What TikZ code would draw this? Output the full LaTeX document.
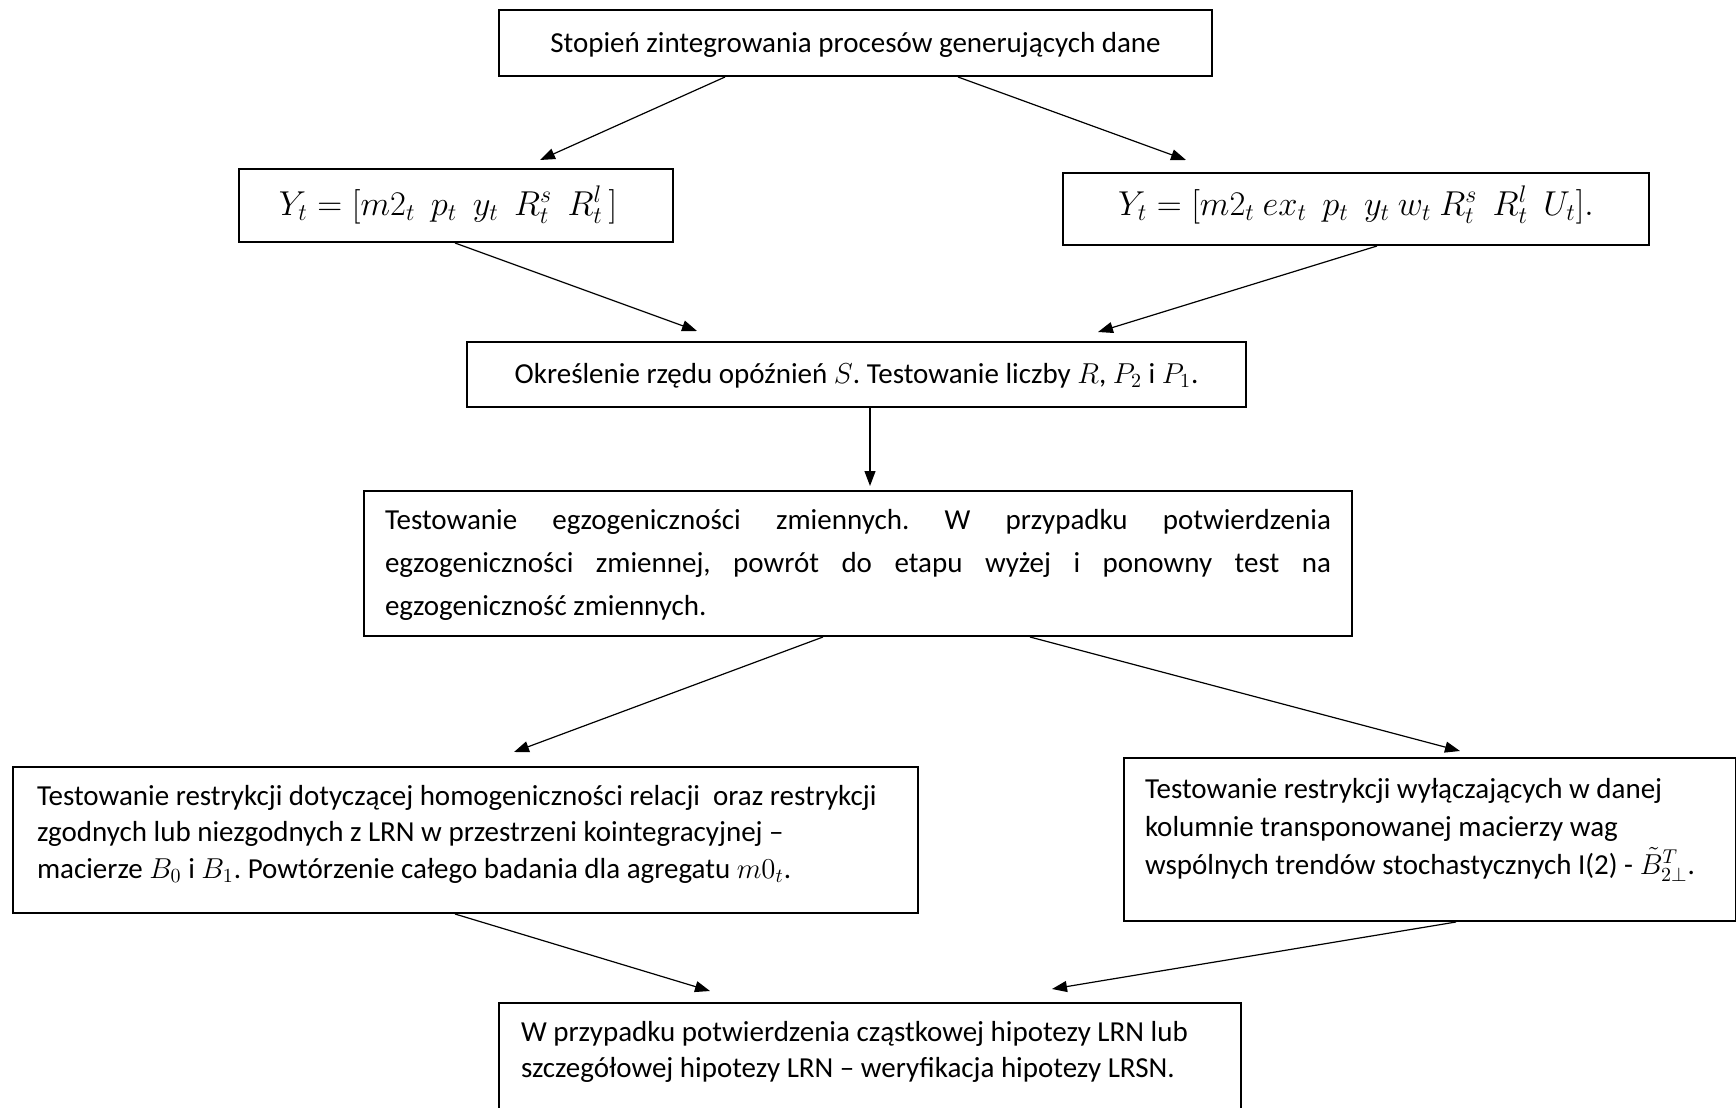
\documentclass[tikz,border=0pt]{standalone}
\usepackage{fontspec}
\setmainfont{Carlito}
\usetikzlibrary{arrows.meta,calc}
\frenchspacing

% #1 text width, #2 box height, #3 first baseline below top, #4 line spacing, #5 text
\newcommand{\flowpar}[5]{%
  \parbox[c][#2][t]{#1}{\setlength{\baselineskip}{#4}\rule{0pt}{#3}#5\par}}

\begin{document}
\begin{tikzpicture}[x=0.5pt,y=-0.5pt,
  box/.style={draw, line width=1pt, inner ysep=0pt, anchor=north west,
              font=\fontsize{14.5}{18}\selectfont},
  bigmath/.style={font=\fontsize{17}{20}\selectfont},
  conn/.style={line width=0.6pt, -{Triangle[length=7.5pt,width=5.5pt]}}]

\useasboundingbox (0,0) rectangle (1736,1108);
\clip (0,0) rectangle (1736,1108);

\node[box, inner xsep=5pt] (b1) at (498,9)
  {\flowpar{346.5pt}{33pt}{21pt}{18pt}{\centering Stopień zintegrowania procesów generujących dane}};

\node[box, bigmath, inner xsep=5pt] (b2) at (238,168)
  {\flowpar{207pt}{36.5pt}{23pt}{18pt}{\centering $Y_t=[m2_t\ \ p_t\ \ y_t\ \ R_t^s\ \ R_t^l\,]$\hspace*{8pt}}};

\node[box, bigmath, inner xsep=5pt] (b3) at (1062,172)
  {\flowpar{283pt}{36pt}{21pt}{18pt}{\centering $Y_t=[m2_t\ ex_t\ \ p_t\ \ y_t\ w_t\ R_t^s\ \ R_t^l\ \ U_t].$}};

\node[box, inner xsep=5pt] (b4) at (466,341)
  {\flowpar{379.5pt}{32.5pt}{20.5pt}{18pt}{\centering Określenie rzędu opóźnień $S$. Testowanie liczby $R$, $P_2$ $\mathrm{i}$ $P_1$.}};

\node[box, inner xsep=10.5pt] (b5) at (363,490)
  {\flowpar{473pt}{72.5pt}{19pt}{21.7pt}{Testowanie egzogeniczności zmiennych. W przypadku potwierdzenia\linebreak
   egzogeniczności zmiennej, powrót do etapu wyżej i ponowny test na\linebreak
   egzogeniczność zmiennych.}};

\node[box, inner xsep=12pt] (b6) at (12,766)
  {\flowpar{428.5pt}{73pt}{19pt}{18.25pt}{\raggedright Testowanie restrykcji dotyczącej homogeniczności relacji\ \ oraz restrykcji\\
   zgodnych lub niezgodnych z LRN w przestrzeni kointegracyjnej –\\
   macierze $B_0$ i $B_1$. Powtórzenie całego badania dla agregatu $m0_t$.}};

\node[box, inner xsep=10.5pt] (b7) at (1123,757)
  {\flowpar{285pt}{81.5pt}{20pt}{19pt}{\raggedright Testowanie restrykcji wyłączających w danej\\
   kolumnie transponowanej macierzy wag\\
   wspólnych trendów stochastycznych I(2) - $\tilde{B}_{2\perp}^{T}$.}};

\node[box, inner xsep=11pt] (b8) at (498,1002)
  {\flowpar{349pt}{65pt}{19pt}{18pt}{\raggedright W przypadku potwierdzenia cząstkowej hipotezy LRN lub\\
   szczegółowej hipotezy LRN – weryfikacja hipotezy LRSN.}};

\draw[conn] ($(b1.south west)+(227,0)$) -- ($(b2.north west)+(302,-8)$);
\draw[conn] ($(b1.south west)+(460,0)$) -- ($(b3.north west)+(124,-12)$);
\draw[conn] ($(b2.south west)+(217,0)$) -- ($(b4.north west)+(231,-10)$);
\draw[conn] ($(b3.south west)+(315,0)$) -- ($(b4.north west)+(632,-9)$);
\draw[conn] ($(b4.south west)+(404,0)$) -- ($(b5.north west)+(507,-4)$);
\draw[conn] ($(b5.south west)+(460,0)$) -- ($(b6.north west)+(502,-14)$);
\draw[conn] ($(b5.south west)+(667,0)$) -- ($(b7.north west)+(337,-6)$);
\draw[conn] ($(b6.south west)+(443,0)$) -- ($(b8.north west)+(212,-11)$);
\draw[conn] ($(b7.south west)+(333,0)$) -- ($(b8.north west)+(554,-13)$);

\end{tikzpicture}
\end{document}
